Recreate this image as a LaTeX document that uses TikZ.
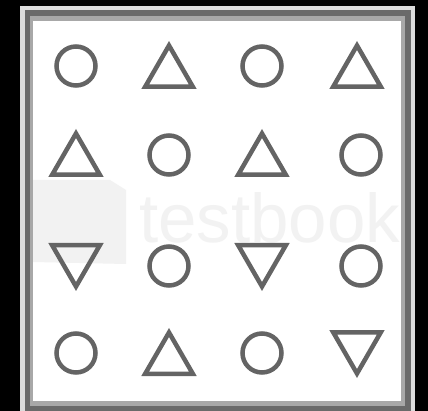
\documentclass[tikz,border=0pt]{standalone}
\usepackage{fontspec}
\newfontfamily\markfont{Liberation Sans}
\usetikzlibrary{shapes.geometric}

\definecolor{shapegray}{HTML}{646464}
\definecolor{edgelight}{HTML}{DCDCDC}
\definecolor{edgedark}{HTML}{6A6A6A}
\definecolor{edgemid}{HTML}{A8A8A8}
\definecolor{markgray}{HTML}{F2F2F2}

\tikzset{
  fig/.style={draw=shapegray, line width=4.5pt, inner sep=0pt},
  ring/.style={fig, circle, minimum size=39pt},
  tri/.style={fig, regular polygon, regular polygon sides=3, minimum size=55pt},
  uptri/.style={tri, yshift=-7pt},
  downtri/.style={tri, shape border rotate=180, yshift=7pt}
}

\begin{document}
\begin{tikzpicture}[x=1pt, y=-1pt]
  % page and frame
  \fill[black] (0,0) rectangle (428,411);
  \useasboundingbox (0,0) rectangle (428,411);
  \fill[edgelight] (20,6) rectangle (415,411);
  \fill[edgedark] (25,10) rectangle (411,411);
  \fill[edgemid] (30,16) rectangle (405,406);
  \fill[white] (33,21) rectangle (401,401);

  % faint watermark
  \fill[markgray] (33,180) -- (110,180) -- (126,190) -- (126,264) -- (33,262) -- cycle;
  \node[markgray, font=\markfont\fontsize{69}{69}\selectfont, anchor=base west, inner sep=0pt] (mark) at (139,243) {testbook};

  % row 1
  \node[ring] (r1c1) at (76,66) {};
  \node[uptri] (r1c2) at (169,66) {};
  \node[ring] (r1c3) at (262,66) {};
  \node[uptri] (r1c4) at (357,66) {};

  % row 2
  \node[uptri] (r2c1) at (76,154) {};
  \node[ring] (r2c2) at (169,155) {};
  \node[uptri] (r2c3) at (262,154) {};
  \node[ring] (r2c4) at (361,155) {};

  % row 3
  \node[downtri] (r3c1) at (76,266) {};
  \node[ring] (r3c2) at (169,266) {};
  \node[downtri] (r3c3) at (262,266) {};
  \node[ring] (r3c4) at (361,266) {};

  % row 4
  \node[ring] (r4c1) at (76,353) {};
  \node[uptri] (r4c2) at (169,353) {};
  \node[ring] (r4c3) at (262,353) {};
  \node[downtri] (r4c4) at (357,353) {};
\end{tikzpicture}
\end{document}
